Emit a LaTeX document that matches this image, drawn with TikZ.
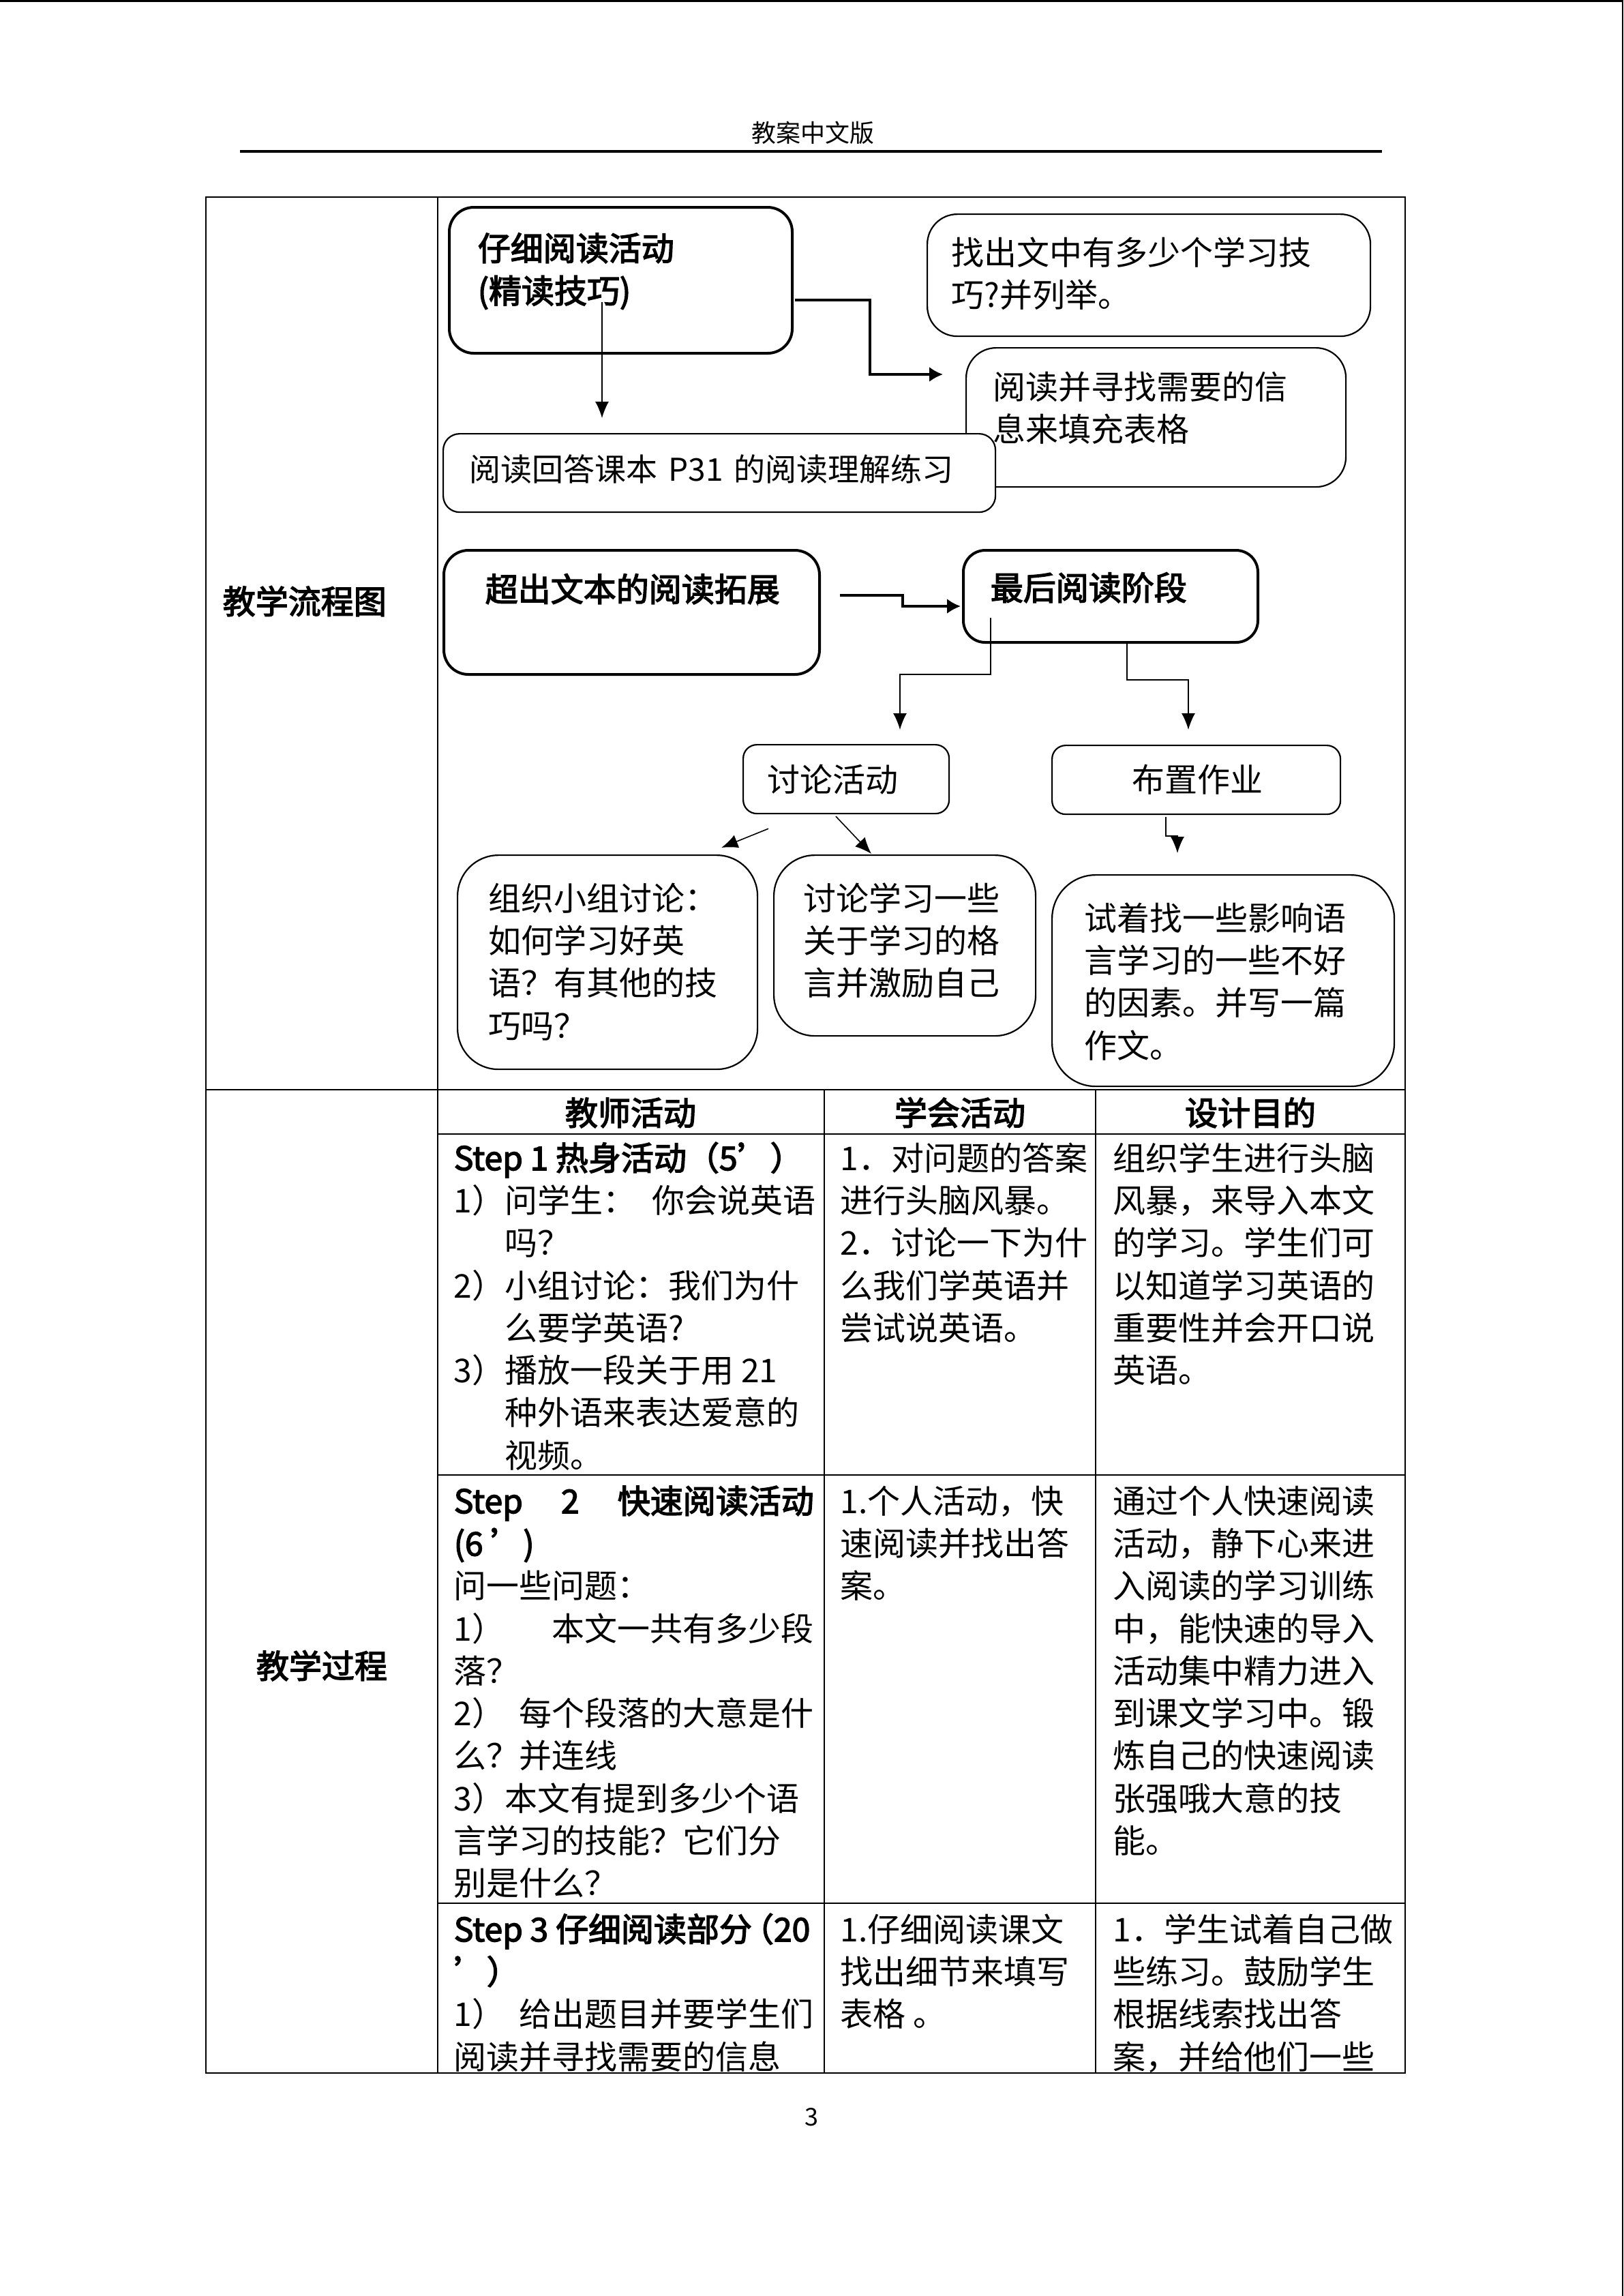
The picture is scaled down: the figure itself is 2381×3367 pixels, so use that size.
\documentclass[tikz,border=0pt]{standalone}
\usepackage{fontspec}
\setmainfont{Noto Sans CJK SC}[BoldFont={Noto Sans CJK SC}, BoldFeatures={FakeBold=3}]
\usetikzlibrary{arrows.meta,calc}
\newcommand\fsz{\fontsize{12pt}{15.58pt}\selectfont}
\newcommand\fsm{\fontsize{11.5pt}{14pt}\selectfont}
\newcommand\fhd{\fontsize{9pt}{11pt}\selectfont}
\begin{document}
\begin{tikzpicture}[x=0.25pt,y=-0.25pt,
  grid/.style={line width=0.4pt},
  gridthick/.style={line width=0.6pt},
  boxn/.style={draw, line width=0.55pt, fill=white, rounded corners=#1, anchor=north west, inner sep=0pt},
  boxb/.style={draw, line width=1pt, fill=white, rounded corners=#1, anchor=north west, inner sep=0pt},
  txt/.style={anchor=north west, inner sep=0pt, align=left, font=\fsz},
  txtb/.style={anchor=north west, inner sep=0pt, align=left, font=\fsz\bfseries},
  one/.style={anchor=base west, inner sep=0pt, font=\fsz},
  oneb/.style={anchor=base west, inner sep=0pt, font=\fsz\bfseries},
  thickarr/.style={line width=0.8pt, -{Latex[length=5pt,width=5.5pt]}},
  thinarr/.style={line width=0.4pt, -{Latex[length=6pt,width=5pt]}},
]
\useasboundingbox (0,0) rectangle (2381,3367);
\fill[white] (0,0) rectangle (2381,3367);

% page frame
\draw[line width=0.8pt] (0,1.6) -- (2381,1.6);
\draw[line width=0.5pt] (2379.5,0) -- (2379.5,3367);

% header
\node[anchor=base, inner sep=0pt, font=\fhd] (hdr) at (1192,208) {教案中文版};
\draw[line width=1.1pt] (352,222) -- (2027,222);

% table grid
\draw[grid] (302,289) rectangle (2061,3040);
\draw[grid] (642,289) -- (642,3040);
\draw[grid] (302,1598) -- (2061,1598);
\draw[grid] (1209,1598) -- (1209,3040);
\draw[grid] (1607,1598) -- (1607,3040);
\draw[grid] (642,1663) -- (2061,1663);
\draw[gridthick] (642,2163) -- (2061,2163);
\draw[gridthick] (642,2791) -- (2061,2791);
\draw[gridthick] (302,3040) -- (2061,3040);

% left labels
\node[oneb] (lab1) at (326,900) {教学流程图};
\node[anchor=base, inner sep=0pt, font=\fsz\bfseries] (lab2) at (472,2461) {教学过程};

% header row
\node[anchor=base, inner sep=0pt, font=\fsz\bfseries] (h1) at (925,1650) {教师活动};
\node[anchor=base, inner sep=0pt, font=\fsz\bfseries] (h2) at (1408,1650) {学会活动};
\node[anchor=base, inner sep=0pt, font=\fsz\bfseries] (h3) at (1834,1650) {设计目的};

% step 1 row
\node[txt] (s1a) at (665,1671.6) {\strut\textbf{Step 1 热身活动（5’）}\\
1）问学生：\hspace{6pt}你会说英语\\
\phantom{1）}吗？\\
2）小组讨论：我们为什\\
\phantom{2）}么要学英语?\\
3）播放一段关于用 21\\
\phantom{3）}种外语来表达爱意的\\
\phantom{3）}视频。};
\node[txt] (s1b) at (1232,1671.6) {\strut 1．对问题的答案\\
进行头脑风暴。\\
2．讨论一下为什\\
么我们学英语并\\
尝试说英语。};
\node[txt] (s1c) at (1632,1671.6) {\strut 组织学生进行头脑\\
风暴，来导入本文\\
的学习。学生们可\\
以知道学习英语的\\
重要性并会开口说\\
英语。};

% step 2 row
\node[txt] (s2a) at (665,2174.6) {\strut\hbox to 132pt{\bfseries Step\hfill 2\hfill 快速阅读活动}\\
\textbf{(6 ’)}\\
问一些问题：\\
\hbox to 132pt{1）\hfill 本文一共有多少段}\\
落？\\
\hbox to 132pt{2）\hfill 每个段落的大意是什}\\
么？并连线\\
3）本文有提到多少个语\\
言学习的技能？它们分\\
别是什么？};
\node[txt] (s2b) at (1232,2174.6) {\strut 1.个人活动，快\\
速阅读并找出答\\
案。};
\node[txt] (s2c) at (1632,2174.6) {\strut 通过个人快速阅读\\
活动，静下心来进\\
入阅读的学习训练\\
中，能快速的导入\\
活动集中精力进入\\
到课文学习中。锻\\
炼自己的快速阅读\\
张强哦大意的技\\
能。};

% step 3 row
\node[txt] (s3a) at (665,2802.6) {\strut\textbf{Step 3 仔细阅读部分\hspace{-4pt}（20}\\
\textbf{’）}\\
\hbox to 132pt{1）\hfill 给出题目并要学生们}\\
阅读并寻找需要的信息};
\node[txt] (s3b) at (1232,2802.6) {\strut 1.仔细阅读课文\\
找出细节来填写\\
表格 。};
\node[txt] (s3c) at (1632,2802.6) {\strut 1．学生试着自己做\\
些练习。鼓励学生\\
根据线索找出答\\
案，并给他们一些};

% flowchart boxes, part 1
\node[boxb=9pt, minimum width=503*0.25pt, minimum height=214*0.25pt] (b1) at (657,302) {};
\node[boxn=11pt, minimum width=650*0.25pt, minimum height=179*0.25pt] (b2) at (1359,313) {};
\node[boxn=11pt, minimum width=557*0.25pt, minimum height=204*0.25pt] (b3) at (1416,509) {};
\node[boxn=6pt, minimum width=810*0.25pt, minimum height=115*0.25pt] (b4) at (649,635) {};

\node[txtb] (t1) at (700,337.6) {\strut 仔细阅读活动\\(精读技巧)};
\node[txt] (t2) at (1395,343.6) {\strut 找出文中有多少个学习技\\巧?并列举。};
\node[txt] (t3) at (1456,540.6) {\strut 阅读并寻找需要的信\\息来填充表格};
\node[anchor=base west, inner sep=0pt, font=\fsm] (t4) at (688,705) {阅读回答课本\hspace{4pt}P31\hspace{4pt}的阅读理解练习};

% flowchart boxes, part 2
\node[boxb=9pt, minimum width=551*0.25pt, minimum height=182*0.25pt] (b5) at (649,805) {};
\node[boxb=8pt, minimum width=432*0.25pt, minimum height=135*0.25pt] (b6) at (1411,805) {};
\node[boxn=5pt, minimum width=302*0.25pt, minimum height=101*0.25pt] (b9) at (1089,1091) {};
\node[boxn=5pt, minimum width=423*0.25pt, minimum height=101*0.25pt] (b10) at (1542,1092) {};
\node[boxn=15pt, minimum width=440*0.25pt, minimum height=314*0.25pt] (b14) at (670,1253) {};
\node[boxn=15pt, minimum width=384*0.25pt, minimum height=265*0.25pt] (b15) at (1134,1253) {};
\node[boxn=16pt, minimum width=502*0.25pt, minimum height=310*0.25pt] (b16) at (1542,1282) {};

\node[oneb] (t5) at (711,882) {超出文本的阅读拓展};
\node[oneb] (t6) at (1452,880) {最后阅读阶段};
\node[one] (t9) at (1125,1161) {讨论活动};
\node[anchor=base, inner sep=0pt, font=\fsz] (t10) at (1756,1161) {布置作业};
\node[txt] (t14) at (716,1290.6) {\strut 组织小组讨论：\\如何学习好英\\语？有其他的技\\巧吗？};
\node[txt] (t15) at (1178,1290.6) {\strut 讨论学习一些\\关于学习的格\\言并激励自己};
\node[txt] (t16) at (1590,1319.6) {\strut 试着找一些影响语\\言学习的一些不好\\的因素。并写一篇\\作文。};

% connectors
\draw[thickarr] ($(b1.north east)+(2,138)$) -- ++(110,0) |- ($(b3.north west)+(-33,40)$);
\draw[thinarr] ($(b1.north west)+(226,141)$) -- ($(b4.north west)+(234,-22)$);
\draw[thickarr] ($(b5.north east)+(28,68)$) -- ++(92,0) |- ($(b6.north west)+(-2,84)$);
\draw[thinarr] ($(b6.north west)+(42,101)$) -- ++(0,83) -| ($(b9.north west)+(231,-21)$);
\draw[thinarr] ($(b6.south west)+(242,0)$) -- ++(0,53) -| ($(b10.north west)+(201,-22)$);
\draw[thinarr] ($(b9.south west)+(38,21)$) -- ($(b14.north east)+(-54,-10)$);
\draw[thinarr] ($(b9.south west)+(137,3)$) -- ($(b15.north west)+(144,-1)$);
\draw[thinarr] ($(b10.south west)+(168,3)$) -- ++(0,28) -| ($(b16.north west)+(185,-31)$);

% page number
\node[anchor=base, inner sep=0pt, font=\fhd] (pg) at (1190,3117) {3};
\end{tikzpicture}
\end{document}
